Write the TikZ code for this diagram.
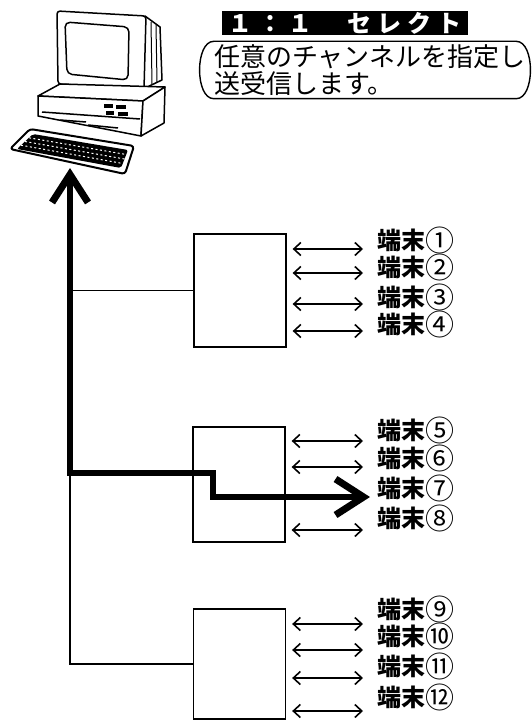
\documentclass[tikz,border=0pt]{standalone}
\usepackage{fontspec}
\setmainfont{Noto Sans CJK JP}
\newfontfamily\titlefont[LetterSpace=24]{Noto Sans CJK JP}
\newcommand\cnum[1]{{\mdseries\fontsize{29}{24}\selectfont\smash{\raisebox{-2pt}{#1}}}}
\usetikzlibrary{arrows.meta,positioning}

\begin{document}
\begin{tikzpicture}[
    x=1pt, y=-1pt,
    hub/.style={draw, line width=1.3pt, minimum width=92pt, inner sep=0pt},
    term/.style={anchor=west, inner sep=0pt, font=\bfseries\fontsize{24}{24}\selectfont},
    link/.style={{Straight Barb[length=7pt,width=13pt]}-{Straight Barb[length=7pt,width=13pt]}, line width=1.6pt},
    wire/.style={line width=1.3pt},
    bus/.style={line width=5.5pt},
    pc/.style={line width=1.5pt, line join=round}
]
\useasboundingbox (0,0) rectangle (532,722);

% personal computer
\draw[pc, fill=white] (145,16) -- (160,27) -- (162,80) -- (143,89) -- cycle;
\draw[pc, line width=1pt] (151,22) -- (152,84);
\draw[pc, line width=1pt] (156,25) -- (157,82);
\draw[pc, fill=white, rounded corners=3pt] (57,11) -- (146,16) -- (144,89) -- (58,84) -- cycle;
\draw[pc, rounded corners=5pt] (65,22) -- (129,27) -- (128,80) -- (67,74) -- cycle;
\draw[pc, fill=white] (38,96) -- (60,84) -- (165,87) -- (143,101) -- cycle;
\draw[pc, fill=white] (38,96) -- (143,101) -- (141,136) -- (38,116) -- cycle;
\draw[pc, fill=white] (143,101) -- (165,87) -- (164,123) -- (141,136) -- cycle;
\draw[pc] (42,112) -- (140,119);
\draw[pc] (60,120) -- (86,122);
\draw[pc] (88,125) -- (118,128);
\fill (104,104) rectangle (113,108);
\fill (116,105) rectangle (126,109);
\fill (106,111) rectangle (114,115);
\fill (118,112) rectangle (128,116);
\draw[pc, line width=2pt, fill=white, rounded corners=3pt] (30,129) -- (134,146) -- (125,174) -- (10,149) -- cycle;
\fill[rounded corners=2pt] (33,134) -- (128,150) -- (121,168) -- (17,149) -- cycle;
\draw[white, line width=1pt, dash pattern=on 2pt off 2.5pt] (29,137.8) -- (126.2,154.5);
\draw[white, line width=1pt, dash pattern=on 2pt off 2.5pt] (25,141.5) -- (124.5,159);
\draw[white, line width=1pt, dash pattern=on 2pt off 2.5pt] (21,145.2) -- (122.8,163.5);

% mode title and note
\node[fill=black, text=white, minimum width=246pt, minimum height=24pt, inner sep=0pt,
      font=\titlefont\bfseries\fontsize{24}{24}\selectfont] (mode) at (345,23.5) {１：１　セレクト};
\node[minimum width=330pt, minimum height=57pt, inner sep=0pt] (frame) at (365,70) {};
\node[anchor=west, align=left, inner sep=0pt, font=\fontsize{26}{27}\selectfont]
     (note) at ([xshift=14pt]frame.west) {任意のチャンネルを指定し\\送受信します。};
\draw[line width=1.4pt] ([xshift=14pt]frame.north west) -- ([xshift=-14pt]frame.north east)
    .. controls ([xshift=5pt]frame.north east) and ([xshift=5pt]frame.south east) .. ([xshift=-14pt]frame.south east)
    -- ([xshift=14pt]frame.south west)
    .. controls ([xshift=-5pt]frame.south west) and ([xshift=-5pt]frame.north west) .. cycle;

% line units
\node[hub, minimum height=113pt] (hub1) at (240,290.5) {};
\node[hub, minimum height=115pt] (hub2) at (239,484.5) {};
\node[hub, minimum height=110pt] (hub3) at (239.5,664) {};

% terminals
\node[term] (t1) at (377,240) {端末\cnum{①}};
\node[term] (t2) at (377,267) {端末\cnum{②}};
\node[term] (t3) at (377,297) {端末\cnum{③}};
\node[term] (t4) at (377,324) {端末\cnum{④}};
\node[term] (t5) at (377,430) {端末\cnum{⑤}};
\node[term] (t6) at (377,458) {端末\cnum{⑥}};
\node[term] (t7) at (377,488) {端末\cnum{⑦}};
\node[term] (t8) at (377,518) {端末\cnum{⑧}};
\node[term] (t9) at (377,609) {端末\cnum{⑨}};
\node[term] (t10) at (377,636) {端末\cnum{⑩}};
\node[term] (t11) at (377,666) {端末\cnum{⑪}};
\node[term] (t12) at (377,697) {端末\cnum{⑫}};

\draw[link] ([xshift=6pt,yshift=-9pt]hub1.east |- t1.west) -- ([xshift=-14pt,yshift=-9pt]t1.west);
\draw[link] ([xshift=6pt,yshift=-6pt]hub1.east |- t2.west) -- ([xshift=-14pt,yshift=-6pt]t2.west);
\draw[link] ([xshift=6pt,yshift=-7pt]hub1.east |- t3.west) -- ([xshift=-14pt,yshift=-7pt]t3.west);
\draw[link] ([xshift=6pt,yshift=-7pt]hub1.east |- t4.west) -- ([xshift=-14pt,yshift=-7pt]t4.west);
\draw[link] ([xshift=6pt,yshift=-11pt]hub2.east |- t5.west) -- ([xshift=-14pt,yshift=-11pt]t5.west);
\draw[link] ([xshift=6pt,yshift=-9pt]hub2.east |- t6.west) -- ([xshift=-14pt,yshift=-9pt]t6.west);
\draw[link] ([xshift=6pt,yshift=-12pt]hub2.east |- t8.west) -- ([xshift=-14pt,yshift=-12pt]t8.west);
\draw[link] ([xshift=6pt,yshift=-15pt]hub3.east |- t9.west) -- ([xshift=-14pt,yshift=-15pt]t9.west);
\draw[link] ([xshift=6pt,yshift=-14pt]hub3.east |- t10.west) -- ([xshift=-14pt,yshift=-14pt]t10.west);
\draw[link] ([xshift=6pt,yshift=-12pt]hub3.east |- t11.west) -- ([xshift=-14pt,yshift=-12pt]t11.west);
\draw[link] ([xshift=6pt,yshift=-14pt]hub3.east |- t12.west) -- ([xshift=-14pt,yshift=-14pt]t12.west);

% trunk line to the units
\coordinate (pcport) at (70,168);
\coordinate (jog) at (213,473);
\draw[wire] (pcport |- jog) |- (hub3.west);
\draw[wire] (pcport |- hub1.west) -- (hub1.west);

% selected channel
\draw[bus, {Straight Barb[length=28pt,width=36pt,line width=7pt]}-{Straight Barb[length=28pt,width=36pt,line width=7pt]}]
    (pcport) |- (jog) |- ([xshift=-7pt,yshift=-9pt]t7.west);
\end{tikzpicture}
\end{document}
